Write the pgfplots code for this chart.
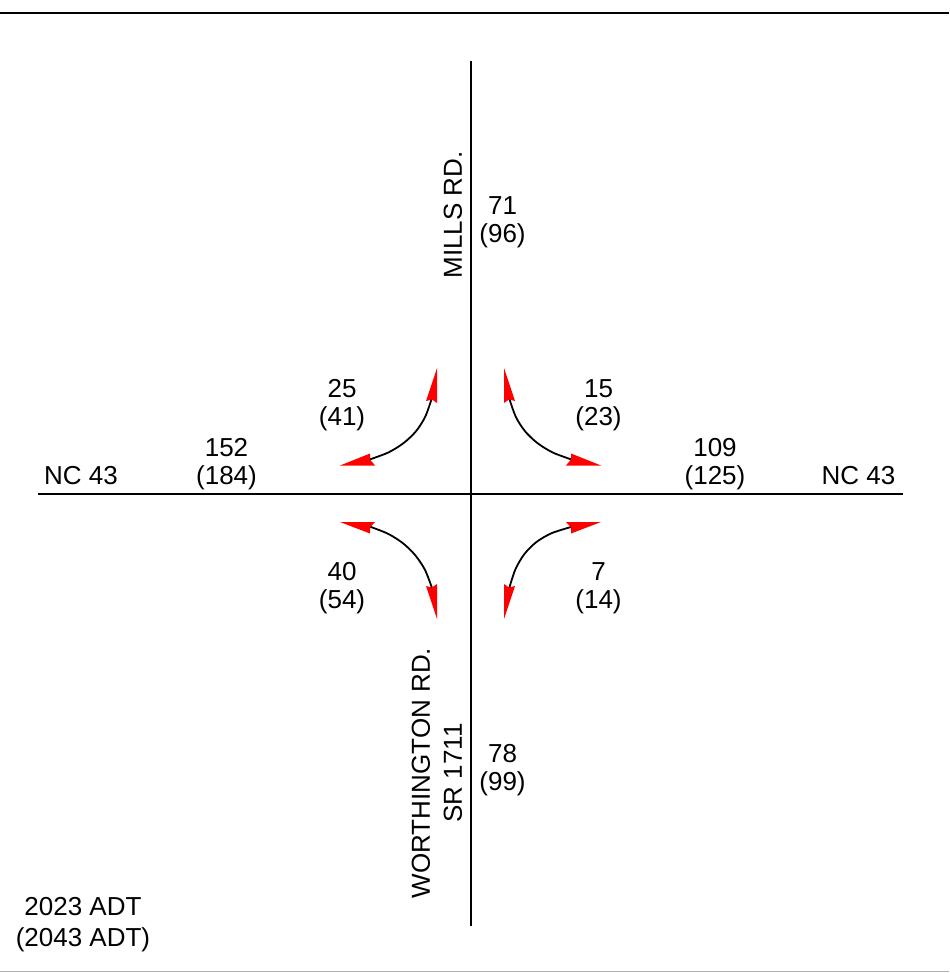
\documentclass[border=0pt]{standalone}
\usepackage{pgfplots}
\pgfplotsset{compat=1.18}
\usepackage{fontspec}
\setmainfont{Liberation Sans}
\definecolor{arrowred}{RGB}{255,0,0}
\begin{document}
\begin{tikzpicture}[every node/.style={font=\fontsize{26}{27.5}\selectfont,align=center,inner sep=0pt,text=black}]
\path[use as bounding box] (0,0) rectangle (949pt,973pt);
\begin{axis}[
  at={(0,0)}, anchor=south west,
  width=949pt, height=973pt, scale only axis,
  xmin=0, xmax=949, ymin=0, ymax=973, y dir=reverse,
  axis lines=none, clip=false,
  ticks=none,
]
% frame rules
\addplot[no marks, black, line width=2pt] coordinates {(0,13.5) (949,13.5)};
\addplot[no marks, black!30, line width=1.5pt] coordinates {(0,971.5) (949,971.5)};
% roads
\addplot[no marks, black, line width=2pt] coordinates {(470.5,61) (470.5,926)};
\addplot[no marks, black, line width=2pt] coordinates {(38,493.5) (903,493.5)};
% turning curves
\addplot[no marks, smooth, black, line width=1.8pt] coordinates {(431.6,399) (425.2,416.8) (416.1,431.1) (403.8,442.9) (388.5,452.4) (369,459.7)};
\addplot[no marks, smooth, black, line width=1.8pt] coordinates {(509.4,399) (515.8,416.8) (524.9,431.1) (537.2,442.9) (552.5,452.4) (572,459.7)};
\addplot[no marks, smooth, black, line width=1.8pt] coordinates {(432,588) (424.9,569.7) (415.2,555.2) (402.9,543.2) (387.9,533.7) (369,526.3)};
\addplot[no marks, smooth, black, line width=1.8pt] coordinates {(509,589) (515.2,569.8) (524.1,554.4) (536.3,542.1) (551.6,533.2) (571,527)};
% arrow heads: top left
\addplot[fill=arrowred, draw=none] coordinates {(437,368) (426,401) (432,399.5) (437,403)} --cycle;
\addplot[fill=arrowred, draw=none] coordinates {(340,465.5) (370,453.5) (370,459.5) (375,465.5)} --cycle;
% top right
\addplot[fill=arrowred, draw=none] coordinates {(504,368) (515,401) (509,399.5) (504,403)} --cycle;
\addplot[fill=arrowred, draw=none] coordinates {(601,465.5) (571,453.5) (571,459.5) (566,465.5)} --cycle;
% bottom left
\addplot[fill=arrowred, draw=none] coordinates {(437,619) (426,586) (432,587.5) (437,584)} --cycle;
\addplot[fill=arrowred, draw=none] coordinates {(340,522) (370,533.5) (370,527.5) (375,522)} --cycle;
% bottom right
\addplot[fill=arrowred, draw=none] coordinates {(504,619) (515,586) (509,587.5) (504,584)} --cycle;
\addplot[fill=arrowred, draw=none] coordinates {(601,522) (571,533.5) (571,527.5) (566,522)} --cycle;
% labels
\node at (axis cs:502.5,222) {71\\(96)};
\node at (axis cs:502.5,770) {78\\(99)};
\node at (axis cs:342,405) {25\\(41)};
\node at (axis cs:598.5,405) {15\\(23)};
\node at (axis cs:342,588) {40\\(54)};
\node at (axis cs:598.5,588) {7\\(14)};
\node at (axis cs:226.5,464) {152\\(184)};
\node at (axis cs:715,464) {109\\(125)};
\node at (axis cs:81,476) {NC 43};
\node at (axis cs:858.5,476) {NC 43};
\node[rotate=90] at (axis cs:453,215) {MILLS RD.};
\node[rotate=90] at (axis cs:421,773) {WORTHINGTON RD.};
\node[rotate=90] at (axis cs:453,773) {SR 1711};
\node at (axis cs:83,925) {2023 ADT\\[3.5pt](2043 ADT)};
\end{axis}
\end{tikzpicture}
\end{document}
